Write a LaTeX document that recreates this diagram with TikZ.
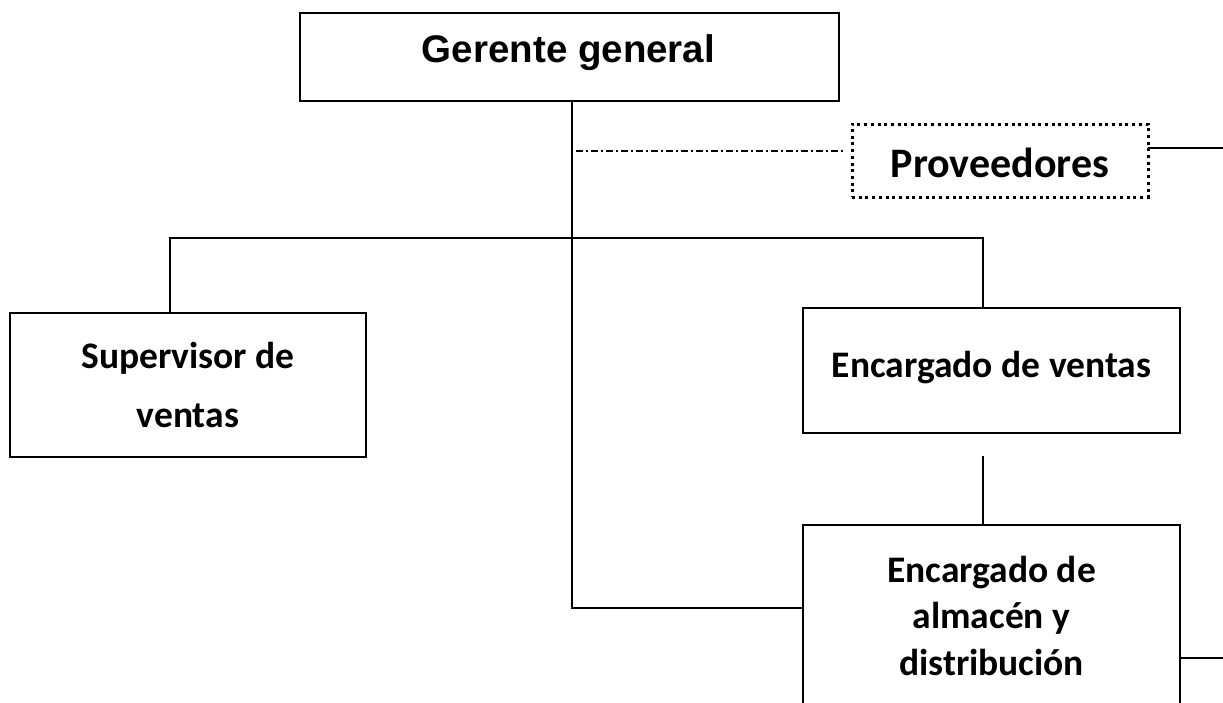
\documentclass[tikz,border=0pt]{standalone}
\usepackage{fontspec}
\setmainfont{Carlito}
\newfontfamily\arialfont{Liberation Sans}
\usetikzlibrary{positioning}
\tikzset{
  box/.style={draw=black, line width=2.8pt, inner sep=0pt, outer sep=0pt, rectangle},
  dotbox/.style={draw=black, line width=3pt, dash pattern=on 3pt off 3.7pt, inner sep=0pt, outer sep=0pt, rectangle},
  conn/.style={draw=black, line width=1.3pt},
  dashdot/.style={draw=black, line width=1.2pt, dash pattern=on 7pt off 3pt on 2pt off 3pt},
  lbl/.style={anchor=base, inner sep=0pt, align=center, font=\bfseries\fontsize{37.5}{46.5}\selectfont},
}
\begin{document}
\begin{tikzpicture}[x=1pt, y=-1pt]
\clip (0,0) rectangle (1223,702);
\useasboundingbox (0,0) rectangle (1223,702);
% boxes
\node[box, minimum width=539pt, minimum height=88pt] (ger) at (569.5,57) {};
\node[dotbox, minimum width=296pt, minimum height=73pt] (prov) at (1000,160.5) {};
\node[box, minimum width=356pt, minimum height=144pt] (sup) at (188,385) {};
\node[box, minimum width=377pt, minimum height=125pt] (enc) at (991.5,370.5) {};
\node[box, minimum width=377pt, minimum height=235pt] (alm) at (991.5,642.5) {};
% texts
\node[anchor=base, inner sep=0pt, font=\arialfont\bfseries\fontsize{38.5}{46}\selectfont] (gert) at (568.5,62.5) {Gerente general};
\node[anchor=base, inner sep=0pt, font=\bfseries\fontsize{42}{50}\selectfont] (provt) at (1000,177) {Proveedores};
\node[lbl, font=\bfseries\fontsize{37.5}{59}\selectfont] (supt) at (188,427) {Supervisor de\\ventas};
\node[lbl] (enct) at (991.5,377) {Encargado de ventas};
\node[lbl] (almt) at (991.5,675) {Encargado de\\almacén y\\distribución};
% coordinates
\coordinate (gs) at (572,102);
\coordinate (trunk) at (572,238);
\coordinate (corner) at (572,608);
\coordinate (hl) at (170,238);
\coordinate (hr) at (983,238);
\coordinate (dd1) at (576,151);
\coordinate (dd2) at (846,151);
\coordinate (ee1) at (983,456);
\coordinate (pr) at (1223,148);
\coordinate (ar) at (1223,658);
% connectors
\draw[conn] (gs) -- (corner) -- (corner -| alm.west);
\draw[conn] (hl |- sup.north) -- (hl) -- (hr) -- (hr |- enc.north);
\draw[dashdot] (dd1) -- (dd2);
\draw[conn] (ee1) -- (ee1 |- alm.north);
\draw[conn] (prov.east |- pr) -- (pr);
\draw[conn] (alm.east |- ar) -- (ar);
\end{tikzpicture}
\end{document}
